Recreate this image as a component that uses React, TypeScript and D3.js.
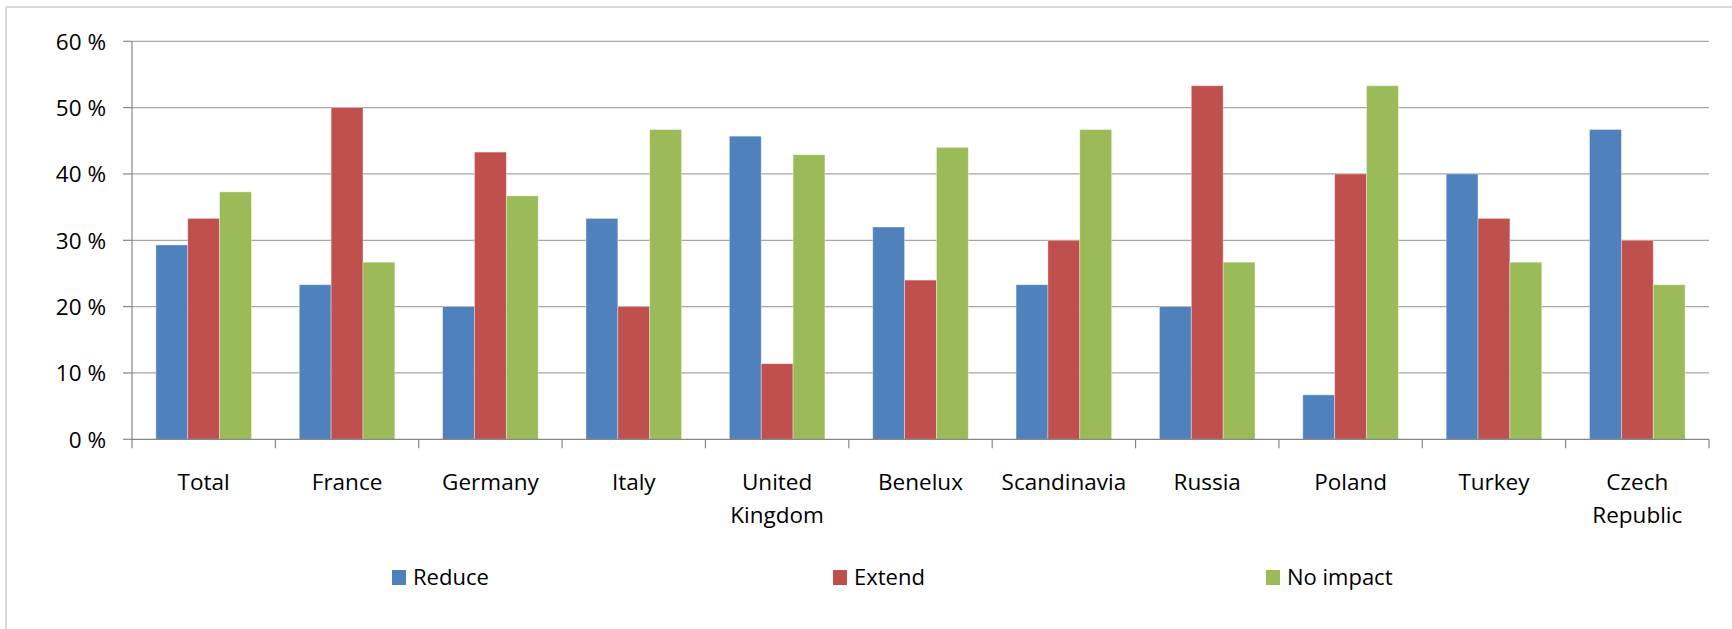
import React from "react";
import * as d3 from "d3";

const categories = [
  ["Total"],
  ["France"],
  ["Germany"],
  ["Italy"],
  ["United", "Kingdom"],
  ["Benelux"],
  ["Scandinavia"],
  ["Russia"],
  ["Poland"],
  ["Turkey"],
  ["Czech", "Republic"],
];
const seriesNames = ["Reduce", "Extend", "No impact"];
const reduce = [29.3, 23.3, 20, 33.3, 45.7, 32, 23.3, 20, 6.7, 40, 46.7];
const extend = [33.3, 50, 43.3, 20, 11.4, 24, 30, 53.3, 40, 33.3, 30];
const noImpact = [37.3, 26.7, 36.7, 46.7, 42.9, 44, 46.7, 26.7, 53.3, 26.7, 23.3];
const yTicks = [0, 10, 20, 30, 40, 50, 60];
const colors = ["#4F81BD", "#C0504D", "#9BBB59"];

const W = 1732;
const H = 629;
const FONT = "'Open Sans', sans-serif";

export default function App() {
  const values = [reduce, extend, noImpact];
  const keys = categories.map((c) => c.join(" "));
  const x0 = d3.scaleBand<string>().domain(keys).range([132, 1709]).padding(0);
  const x1 = d3
    .scaleBand<string>()
    .domain(seriesNames)
    .range([0, x0.bandwidth()])
    .paddingInner(0)
    .paddingOuter(0.75);
  const y = d3.scaleLinear().domain([0, 60]).range([439.3, 41.3]);
  const legendX = [392, 833, 1266];

  return (
    <svg
      width={W}
      height={H}
      style={{ position: "absolute", left: 0, top: 0, background: "#fff" }}
    >
      {/* outer frame */}
      <line x1={6} y1={7} x2={W} y2={7} stroke="#d9d9d9" strokeWidth={2} />
      <line x1={6} y1={7} x2={6} y2={H} stroke="#d9d9d9" strokeWidth={2} />

      {/* gridlines */}
      {yTicks.map((t) => (
        <g key={t}>
          {t > 0 && (
            <line
              x1={132}
              x2={1709}
              y1={y(t)}
              y2={y(t)}
              stroke="#a6a6a6"
              strokeWidth={1.2}
            />
          )}
          <line x1={123} x2={132} y1={y(t)} y2={y(t)} stroke="#868686" strokeWidth={1.2} />
          <text
            x={106}
            y={y(t) + 8.5}
            textAnchor="end"
            fontFamily={FONT}
            fontSize={22.5}
            fill="#000"
          >
            {t} %
          </text>
        </g>
      ))}

      {/* bars */}
      {keys.map((k, i) => (
        <g key={k} transform={`translate(${x0(k)},0)`}>
          {seriesNames.map((s, j) => (
            <rect
              key={s}
              x={x1(s)}
              y={y(values[j][i])}
              width={x1.bandwidth()}
              height={y(0) - y(values[j][i])}
              fill={colors[j]}
              stroke="#ffffff"
              strokeOpacity={0.45}
              strokeWidth={0.8}
            />
          ))}
        </g>
      ))}

      {/* axes */}
      <line x1={132} x2={132} y1={y(60)} y2={y(0)} stroke="#868686" strokeWidth={1.2} />
      <line x1={132} x2={1709} y1={y(0)} y2={y(0)} stroke="#868686" strokeWidth={1.2} />
      {d3.range(keys.length + 1).map((i) => {
        const xv = 132 + i * x0.step();
        return (
          <line key={i} x1={xv} x2={xv} y1={y(0)} y2={y(0) + 9} stroke="#868686" strokeWidth={1.2} />
        );
      })}

      {/* category labels */}
      {categories.map((c, i) => (
        <text
          key={i}
          x={(x0(keys[i]) as number) + x0.bandwidth() / 2}
          y={490}
          textAnchor="middle"
          fontFamily={FONT}
          fontSize={22.5}
          fill="#000"
        >
          {c.map((line, li) => (
            <tspan key={li} x={(x0(keys[i]) as number) + x0.bandwidth() / 2} dy={li === 0 ? 0 : 32.5}>
              {line}
            </tspan>
          ))}
        </text>
      ))}

      {/* legend */}
      {seriesNames.map((s, j) => (
        <g key={s}>
          <rect x={legendX[j]} y={570} width={14} height={15} fill={colors[j]} />
          <text
            x={legendX[j] + 21}
            y={585}
            fontFamily={FONT}
            fontSize={22}
            fill="#000"
          >
            {s}
          </text>
        </g>
      ))}
    </svg>
  );
}
